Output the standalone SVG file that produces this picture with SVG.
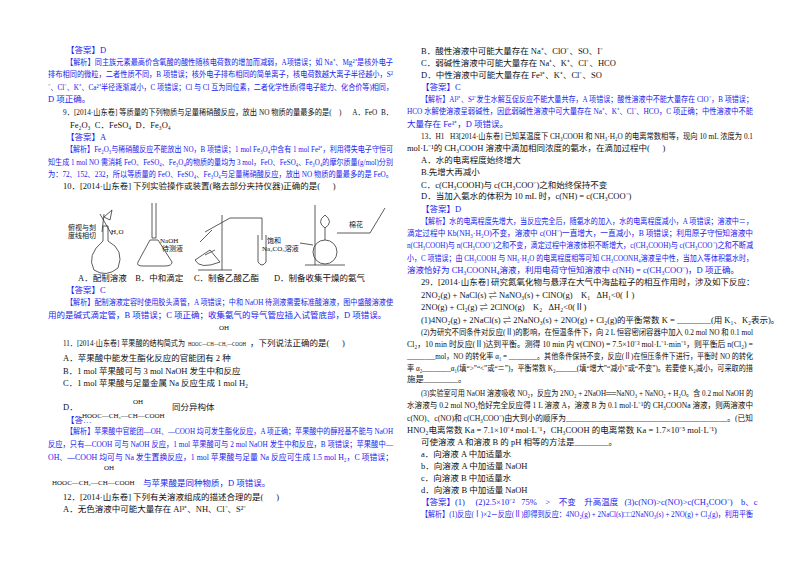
<svg xmlns="http://www.w3.org/2000/svg" width="800" height="565" viewBox="0 0 800 565">
<style>
text{font-family:"Liberation Serif","Noto Sans CJK SC",serif;font-size:8.5px;fill:#111;white-space:pre}
.b{fill:#2222ee}
.s{font-size:7px}
.ap{fill:none;stroke:#333;stroke-width:0.8}
</style>
<rect width="800" height="565" fill="#fff"/>
<g id="left">
<text x="66" y="53" class="b">【答案】D</text>
<text x="66" y="65" class="b" textLength="327" lengthAdjust="spacingAndGlyphs">【解析】同主族元素最高价含氧酸的酸性随核电荷数的增加而减弱，A项错误；如 Na⁺、Mg²⁺是核外电子</text>
<text x="48" y="77" class="b" textLength="345" lengthAdjust="spacingAndGlyphs">排布相同的微粒，二者性质不同，B 项错误；核外电子排布相同的简单离子，核电荷数越大离子半径越小，S²</text>
<text x="48" y="90" class="b" textLength="345" lengthAdjust="spacingAndGlyphs">⁻、Cl⁻、K⁺、Ca²⁺半径逐渐减小，C 项错误；Cl 与 Cl 互为同位素，二者化学性质(得电子能力、化合价等)相同，</text>
<text x="48" y="102" class="b">D 项正确。</text>
<text x="63" y="115" textLength="330" lengthAdjust="spacingAndGlyphs">9．[2014·山东卷] 等质量的下列物质与足量稀硝酸反应，放出 NO 物质的量最多的是(    )      A．FeO  B．</text>
<text x="70" y="128">Fe₂O₃  C．FeSO₄  D．Fe₃O₄</text>
<text x="66" y="140" class="b">【答案】A</text>
<text x="66" y="152" class="b" textLength="327" lengthAdjust="spacingAndGlyphs">【解析】Fe₂O₃与稀硝酸反应不能放出 NO，B 项错误；1 mol Fe₃O₄中含有 1 mol Fe²⁺，利用得失电子守恒可</text>
<text x="48" y="165" class="b" textLength="345" lengthAdjust="spacingAndGlyphs">知生成 1 mol NO 需消耗 FeO、FeSO₄、Fe₃O₄的物质的量均为 3 mol，FeO、FeSO₄、Fe₃O₄的摩尔质量(g/mol)分别</text>
<text x="48" y="177" class="b" textLength="345" lengthAdjust="spacingAndGlyphs">为：72、152、232，所以等质量的 FeO、FeSO₄、Fe₃O₄与足量稀硝酸反应，放出 NO 物质的量最多的是 FeO。</text>
<text x="63" y="189">10．[2014·山东卷] 下列实验操作或装置(略去部分夹持仪器)正确的是(      )</text>
</g>
<g id="apparatus">
<path class="ap" d="M103,241 L103,226 L108,226 L108,241 Q125,250 118,268 Q106,278 94,270 Q86,255 103,241Z"/>
<path class="ap" d="M100,214 L112,235 M104,214 L102,232"/>
<path class="ap" d="M104,217 L112,210 L110,220Z"/>
<text x="68" y="230" class="s">俯视与刻</text><text x="68" y="238" class="s">度线相切</text>
<text x="111" y="234" class="s">H₂O</text>
<path class="ap" d="M152,203 L152,238 L156,238 L156,203"/>
<path class="ap" d="M150,240 L158,240 L172,262 Q172,266 165,266 L143,266 Q136,266 138,262Z"/>
<text x="160" y="243" class="s">NaOH</text><text x="162" y="251" class="s">待测液</text>
<path class="ap" d="M222,215 L222,270 M198,270 L232,270 M210,250 L195,260 Q200,270 220,262 Z"/>
<path class="ap" d="M205,232 L230,218 L262,218 L262,240 M258,235 L258,262 Q262,268 266,262 L266,235"/>
<path class="ap" d="M200,242 L212,230 M205,255 L215,250"/>
<text x="267" y="243" class="s">饱和</text><text x="262" y="251" class="s">Na₂CO₃溶液</text>
<path class="ap" d="M315,205 L315,265 M305,265 L345,265 M325,215 Q316,222 325,228 Q334,222 325,215Z"/>
<circle class="ap" cx="325" cy="252" r="12"/>
<path class="ap" d="M325,228 L325,240 M300,243 L313,245 M337,233 L370,233 M370,233 L385,208"/>
<text x="349" y="227" class="s">棉花</text>
<text x="78" y="281">A．配制溶液    B．中和滴定     C．制备乙酸乙酯       D．制备收集干燥的氨气</text>
</g>
<g id="left2">
<text x="66" y="293" class="b">【答案】C</text>
<text x="66" y="305" class="b" textLength="327" lengthAdjust="spacingAndGlyphs">【解析】配制溶液定容时使用胶头滴管，A 项错误；中和 NaOH 待测液需要标准酸溶液，图中盛酸溶液使</text>
<text x="48" y="318" class="b">用的是碱式滴定管，B 项错误；C 项正确；收集氨气的导气管应插入试管底部，D 项错误。</text>
<text x="219" y="330" class="s">OH</text>
<text x="63" y="346" textLength="122" lengthAdjust="spacingAndGlyphs">11．[2014·山东卷] 苹果酸的结构简式为</text>
<text x="188" y="346" class="s" textLength="58" lengthAdjust="spacingAndGlyphs">HOOC—CH—CH₂—COOH</text>
<text x="250" y="346">，下列说法正确的是(      )</text>
<text x="63" y="361">A．苹果酸中能发生酯化反应的官能团有 2 种</text>
<text x="63" y="374">B．1 mol 苹果酸可与 3 mol NaOH 发生中和反应</text>
<text x="63" y="386">C．1 mol 苹果酸与足量金属 Na 反应生成 1 mol H₂</text>
<text x="133" y="404" class="s">OH</text>
<text x="63" y="410">D．</text>
<text x="172" y="410">同分异构体</text>
<text x="82" y="418" class="s">HOOC—CH₂—CH—COOH</text>
<text x="66" y="423" class="b">【答…</text>
<text x="66" y="434" class="b" textLength="327" lengthAdjust="spacingAndGlyphs">【解析】苹果酸中官能团—OH、—COOH 均可发生酯化反应，A 项正确；苹果酸中的醇羟基不能与 NaOH</text>
<text x="48" y="447" class="b" textLength="345" lengthAdjust="spacingAndGlyphs">反应，只有—COOH 可与 NaOH 反应，1 mol 苹果酸可与 2 mol NaOH 发生中和反应，B 项错误；苹果酸中—</text>
<text x="48" y="460" class="b" textLength="345" lengthAdjust="spacingAndGlyphs">OH、—COOH 均可与 Na 发生置换反应，1 mol 苹果酸与足量 Na 反应可生成 1.5 mol H₂，C 项错误；</text>
<text x="104" y="470" class="s">OH</text>
<text x="52" y="485" class="s">HOOC—CH₂—CH—COOH</text>
<text x="143" y="486" class="b">与苹果酸是同种物质，D 项错误。</text>
<text x="63" y="500">12．[2014·山东卷] 下列有关溶液组成的描述合理的是(      )</text>
<text x="63" y="512">A．无色溶液中可能大量存在 Al³⁺、NH、Cl⁻、S²⁻</text>
</g>
<g id="right">
<text x="421" y="54">B．酸性溶液中可能大量存在 Na⁺、ClO⁻、SO、I⁻</text>
<text x="421" y="66">C．弱碱性溶液中可能大量存在 Na⁺、K⁺、Cl⁻、HCO</text>
<text x="421" y="78">D．中性溶液中可能大量存在 Fe³⁺、K⁺、Cl⁻、SO</text>
<text x="421" y="90" class="b">【答案】C</text>
<text x="421" y="102" class="b" textLength="332" lengthAdjust="spacingAndGlyphs">【解析】Al³⁺、S²⁻发生水解互促反应不能大量共存，A 项错误；酸性溶液中不能大量存在 ClO⁻，B 项错误；</text>
<text x="407" y="114" class="b" textLength="346" lengthAdjust="spacingAndGlyphs">HCO 水解使溶液呈弱碱性，因此弱碱性溶液中可大量存在 Na⁺、K⁺、Cl⁻、HCO，C 项正确；中性溶液中不能</text>
<text x="407" y="127" class="b">大量存在 Fe³⁺，D 项错误。</text>
<text x="421" y="139" textLength="332" lengthAdjust="spacingAndGlyphs">13．H1   H3[2014·山东卷] 已知某温度下 CH₃COOH 和 NH₃·H₂O 的电离常数相等，现向 10 mL 浓度为 0.1</text>
<text x="407" y="151">mol·L⁻¹的 CH₃COOH 溶液中滴加相同浓度的氨水，在滴加过程中(      )</text>
<text x="421" y="163">A．水的电离程度始终增大</text>
<text x="421" y="175">B.先增大再减小</text>
<text x="421" y="188">C．c(CH₃COOH)与 c(CH₃COO⁻)之和始终保持不变</text>
<text x="421" y="199">D．当加入氨水的体积为 10 mL 时，c(NH) = c(CH₃COO⁻)</text>
<text x="421" y="212" class="b">【答案】D</text>
<text x="421" y="224" class="b" textLength="332" lengthAdjust="spacingAndGlyphs">【解析】水的电离程度先增大，当反应完全后，随氨水的加入，水的电离程度减小，A 项错误；溶液中＝，</text>
<text x="407" y="236" class="b" textLength="346" lengthAdjust="spacingAndGlyphs">滴定过程中 Kb(NH₃·H₂O)不变，溶液中 c(OH⁻)一直增大，一直减小，B 项错误；利用原子守恒知溶液中</text>
<text x="407" y="248" class="b" textLength="346" lengthAdjust="spacingAndGlyphs">n(CH₃COOH)与 n(CH₃COO⁻)之和不变，滴定过程中溶液体积不断增大，c(CH₃COOH)与 c(CH₃COO⁻)之和不断减</text>
<text x="407" y="261" class="b" textLength="346" lengthAdjust="spacingAndGlyphs">小，C 项错误；由 CH₃COOH 与 NH₃·H₂O 的电离程度相等可知 CH₃COONH₄溶液呈中性，当加入等体积氨水时，</text>
<text x="407" y="273" class="b">溶液恰好为 CH₃COONH₄溶液，利用电荷守恒知溶液中 c(NH) = c(CH₃COO⁻)，D 项正确。</text>
<text x="421" y="285">29．[2014·山东卷] 研究氮氧化物与悬浮在大气中海盐粒子的相互作用时，涉及如下反应：</text>
<text x="421" y="298">2NO₂(g) + NaCl(s) ⇌ NaNO₃(s) + ClNO(g)    K₁   ΔH₁&lt;0(Ⅰ)</text>
<text x="421" y="310">2NO(g) + Cl₂(g) ⇌ 2ClNO(g)    K₂   ΔH₂&lt;0(Ⅱ)</text>
<text x="421" y="323">(1)4NO₂(g) + 2NaCl(s) ⇌ 2NaNO₃(s) + 2NO(g) + Cl₂(g)的平衡常数 K = ________(用 K₁、K₂表示)。</text>
<text x="421" y="335" textLength="332" lengthAdjust="spacingAndGlyphs">(2)为研究不同条件对反应(Ⅱ)的影响，在恒温条件下，向 2 L 恒容密闭容器中加入 0.2 mol NO 和 0.1 mol</text>
<text x="407" y="347" textLength="346" lengthAdjust="spacingAndGlyphs">Cl₂，10 min 时反应(Ⅱ)达到平衡。测得 10 min 内 v(ClNO) = 7.5×10⁻³ mol·L⁻¹·min⁻¹，则平衡后 n(Cl₂) =</text>
<text x="407" y="359" textLength="346" lengthAdjust="spacingAndGlyphs">________mol，NO 的转化率 α₁ = ________。其他条件保持不变，反应(Ⅱ)在恒压条件下进行，平衡时 NO 的转化</text>
<text x="407" y="371" textLength="346" lengthAdjust="spacingAndGlyphs">率 α₂________α₁(填“&gt;”“&lt;”或“＝”)，平衡常数 K₂______(填“增大”“减小”或“不变”)。若要使 K₂减小，可采取的措</text>
<text x="407" y="382">施是________。</text>
<text x="421" y="396" textLength="332" lengthAdjust="spacingAndGlyphs">(3)实验室可用 NaOH 溶液吸收 NO₂，反应为 2NO₂ + 2NaOH══NaNO₃ + NaNO₂ + H₂O。含 0.2 mol NaOH 的</text>
<text x="407" y="408" textLength="346" lengthAdjust="spacingAndGlyphs">水溶液与 0.2 mol NO₂恰好完全反应得 1 L 溶液 A，溶液 B 为 0.1 mol·L⁻¹的 CH₃COONa 溶液，则两溶液中</text>
<text x="407" y="421" textLength="346" lengthAdjust="spacingAndGlyphs">c(NO)、c(NO)和 c(CH₃COO⁻)由大到小的顺序为__________________________________________。(已知</text>
<text x="407" y="433">HNO₂电离常数 Ka = 7.1×10⁻⁴ mol·L⁻¹，CH₃COOH 的电离常数 Ka = 1.7×10⁻⁵ mol·L⁻¹)</text>
<text x="421" y="445">可使溶液 A 和溶液 B 的 pH 相等的方法是________。</text>
<text x="421" y="457">a．向溶液 A 中加适量水</text>
<text x="421" y="469">b．向溶液 A 中加适量 NaOH</text>
<text x="421" y="481">c．向溶液 B 中加适量水</text>
<text x="421" y="493">d．向溶液 B 中加适量 NaOH</text>
<text x="421" y="505" class="b">【答案】(1)     (2)2.5×10⁻²   75%    &gt;    不变    升高温度   (3)c(NO)&gt;c(NO)&gt;c(CH₃COO⁻)    b、c</text>
<text x="421" y="517" class="b" textLength="332" lengthAdjust="spacingAndGlyphs">【解析】(1)反应(Ⅰ)×2－反应(Ⅱ)即得到反应：4NO₂(g) + 2NaCl(s)□□2NaNO₃(s) + 2NO(g) + Cl₂(g)，利用平衡</text>
</g>
</svg>
